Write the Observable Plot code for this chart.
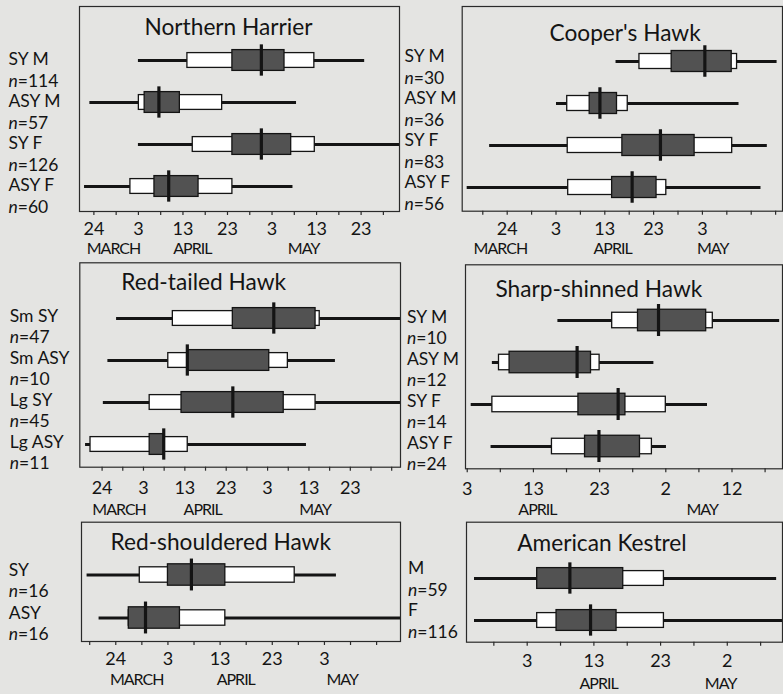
<!DOCTYPE html>
<html><head><meta charset="utf-8">
<script src="https://cdn.jsdelivr.net/npm/d3@7"></script>
<script src="https://cdn.jsdelivr.net/npm/@observablehq/plot@0.6"></script>
<style>
html,body{margin:0;padding:0;background:#e4e4e2;}
#chart{position:relative;width:783px;height:694px;overflow:hidden;font-family:Lato,sans-serif;}
#chart svg{position:absolute;overflow:visible;}
</style></head><body><div id="chart"></div>
<script>
// Day numbers: 1 = 1 March, 32 = 1 April, 62 = 1 May
const harrierRows = [
  {cls:"SY M",  n:"114", min:34.0, p10:45.0, q1:55.1, med:61.6, q3:66.8, p90:73.5, max:84.8},
  {cls:"ASY M", n:"57",  min:23.1, p10:34.1, q1:35.4, med:38.6, q3:43.3, p90:52.8, max:69.5},
  {cls:"SY F",  n:"126", min:34.0, p10:46.2, q1:55.1, med:61.6, q3:68.3, p90:73.6, max:93.5},
  {cls:"ASY F", n:"60",  min:21.9, p10:32.2, q1:37.6, med:40.8, q3:47.5, p90:55.1, max:68.7}
];
const cooperRows = [
  {cls:"SY M",  n:"30", min:46.3, p10:51.1, q1:57.7, med:64.5, q3:70.0, p90:71.1, max:79.3},
  {cls:"ASY M", n:"36", min:34.1, p10:36.3, q1:40.9, med:43.0, q3:46.5, p90:48.7, max:71.5},
  {cls:"SY F",  n:"83", min:20.4, p10:36.4, q1:47.6, med:55.4, q3:62.4, p90:70.1, max:77.3},
  {cls:"ASY F", n:"56", min:15.8, p10:36.5, q1:45.5, med:49.6, q3:54.6, p90:56.6, max:76.0}
];
const redtailRows = [
  {cls:"Sm SY",  n:"47", min:27.5, p10:41.1, q1:55.6, med:65.5, q3:75.6, p90:76.6, max:97.0},
  {cls:"Sm ASY", n:"10", min:25.4, p10:40.0, q1:44.6, med:44.6, q3:64.4, p90:68.9, max:80.4},
  {cls:"Lg SY",  n:"45", min:24.3, p10:35.5, q1:43.2, med:55.6, q3:67.9, p90:75.6, max:97.0},
  {cls:"Lg ASY", n:"11", min:20.0, p10:21.2, q1:35.5, med:38.9, q3:38.9, p90:44.7, max:73.4}
];
const sharpshinRows = [
  {cls:"SY M",  n:"10", min:47.7, p10:55.9, q1:59.8, med:62.9, q3:70.1, p90:71.1, max:81.2},
  {cls:"ASY M", n:"12", min:37.8, p10:38.8, q1:40.4, med:50.6, q3:52.7, p90:54.0, max:62.2},
  {cls:"SY F",  n:"14", min:34.6, p10:37.8, q1:50.8, med:56.8, q3:57.9, p90:64.0, max:70.3},
  {cls:"ASY F", n:"24", min:37.6, p10:46.8, q1:51.8, med:53.9, q3:60.1, p90:61.9, max:64.1}
];
const redshoulderRows = [
  {cls:"SY",  n:"16", min:18.5, p10:28.6, q1:34.0, med:38.5, q3:45.0, p90:58.3, max:66.3},
  {cls:"ASY", n:"16", min:20.8, p10:26.5, q1:26.5, med:29.7, q3:36.3, p90:45.0, max:80.0}
];
const kestrelRows = [
  {cls:"M", n:"59",  min:26.1, p10:35.5, q1:35.5, med:40.4, q3:48.4, p90:54.5, max:71.4},
  {cls:"F", n:"116", min:26.1, p10:35.5, q1:38.4, med:43.5, q3:47.4, p90:54.5, max:73.0}
];

// tick labels
const tickDaysA = [24, 34, 44, 54, 64, 74, 84];
const tickTextA = ["24", "3", "13", "23", "3", "13", "23"];
const tickDaysB = [24, 34, 44, 54, 64];
const tickTextB = ["24", "3", "13", "23", "3"];
const tickDaysC = [34, 44, 54, 64, 74];
const tickTextC = ["3", "13", "23", "2", "12"];
const tickDaysD = [34, 44, 54, 64];
const tickTextD = ["3", "13", "23", "2"];

// month labels (position in day numbers)
const monthNames = ["MARCH", "APRIL", "MAY"];
const monthsHarrier = [{name:"MARCH", day:28.4}, {name:"APRIL", day:46.1}, {name:"MAY", day:71.1}];
const monthsCooper = [{name:"MARCH", day:22.6}, {name:"APRIL", day:45.6}, {name:"MAY", day:66.1}];
const monthsRedtail = [{name:"MARCH", day:28.1}, {name:"APRIL", day:48.3}, {name:"MAY", day:75.5}];
const monthsSharpshin = [{name:"APRIL", day:44.6}, {name:"MAY", day:69.5}];
const monthsRedshoulder = [{name:"MARCH", day:28.0}, {name:"APRIL", day:47.0}, {name:"MAY", day:67.4}];
const monthsKestrel = [{name:"APRIL", day:44.7}, {name:"MAY", day:63.0}];

const panels = [
  {title:"Northern Harrier", rows:harrierRows, tickDays:tickDaysA, tickText:tickTextA, months:monthsHarrier,
   tickFrom:24, left:0, top:0, width:402, height:260, mt:6, mb:49, ml:79, mr:3, domain:[20.77, 92.62],
   insetTop:31.15, insetBottom:3.05, titleDx:65, titleDy:12, tickPad:10.7, monthDy:31.5, labDx:-71, labDy:8.5, lh:1.22},
  {title:"Cooper's Hawk", rows:cooperRows, tickDays:tickDaysB, tickText:tickTextB, months:monthsCooper,
   tickFrom:19, left:400, top:0, width:383, height:260, mt:6, mb:49.3, ml:61.7, mr:1, domain:[14.78, 80.41],
   insetTop:32.75, insetBottom:1.95, titleDx:87.3, titleDy:18, tickPad:11, monthDy:31.8, labDx:-57.7, labDy:4.5, lh:1.24},
  {title:"Red-tailed Hawk", rows:redtailRows, tickDays:tickDaysA, tickText:tickTextA, months:monthsRedtail,
   tickFrom:24, left:0, top:258, width:402, height:262, mt:4.3, mb:53.3, ml:79.3, mr:2, domain:[18.61, 96.13],
   insetTop:33.5, insetBottom:0, titleDx:41.4, titleDy:11.4, tickPad:14, monthDy:36.5, labDx:-70, labDy:7.5, lh:1.18},
  {title:"Sharp-shinned Hawk", rows:sharpshinRows, tickDays:tickDaysC, tickText:tickTextC, months:monthsSharpshin,
   tickFrom:34, left:400, top:258, width:383, height:262, mt:6.3, mb:51.7, ml:65, mr:1, domain:[33.74, 81.63],
   insetTop:34.9, insetBottom:1.1, titleDx:30, titleDy:15.9, tickPad:13.4, monthDy:34.5, labDx:-58.5, labDy:6, lh:1.22},
  {title:"Red-shouldered Hawk", rows:redshoulderRows, tickDays:tickDaysB, tickText:tickTextB, months:monthsRedshoulder,
   tickFrom:19, left:0, top:516, width:402, height:178, mt:5.7, mb:53, ml:81, mr:2, domain:[17.43, 78.58],
   insetTop:31.5, insetBottom:1.6, titleDx:29, titleDy:11.3, tickPad:10.5, monthDy:32.5, labDx:-72.7, labDy:4.5, lh:1.19},
  {title:"American Kestrel", rows:kestrelRows, tickDays:tickDaysD, tickText:tickTextD, months:monthsKestrel,
   tickFrom:29, left:400, top:516, width:383, height:178, mt:5.7, mb:52.3, ml:66, mr:1, domain:[24.9, 72.28],
   insetTop:34.6, insetBottom:0, titleDx:50.7, titleDy:12.6, tickPad:12, monthDy:35, labDx:-58.5, labDy:-0.5, lh:1.22}
];

const ink = "#141414";
const chart = document.getElementById("chart");

for (const p of panels) {
  const frameH = p.height - p.mt - p.mb;
  const bw = (frameH - p.insetTop - p.insetBottom) / p.rows.length;
  const ins = (h) => (bw - h) / 2;
  const svg = Plot.plot({
    width: p.width, height: p.height,
    marginTop: p.mt, marginBottom: p.mb, marginLeft: p.ml, marginRight: p.mr,
    style: {background: "transparent", fontFamily: "Lato, sans-serif", color: ink, overflow: "visible"},
    x: {domain: p.domain, label: null},
    y: {type: "band", domain: p.rows.map(d => d.cls), paddingInner: 0, paddingOuter: 0,
        insetTop: p.insetTop, insetBottom: p.insetBottom, axis: null, label: null},
    marks: [
      Plot.ruleY(p.rows, {y: "cls", x1: "min", x2: "max", stroke: ink, strokeWidth: 3.2, clip: true}),
      Plot.barX(p.rows, {y: "cls", x1: "p10", x2: "p90", fill: "#ffffff", stroke: ink, strokeWidth: 1.3,
        insetTop: ins(15.5), insetBottom: ins(15.5), clip: true}),
      Plot.barX(p.rows, {y: "cls", x1: "q1", x2: "q3", fill: "#525252", stroke: ink, strokeWidth: 1.3,
        insetTop: ins(21.5), insetBottom: ins(21.5), clip: true}),
      Plot.tickX(p.rows, {x: "med", y: "cls", stroke: ink, strokeWidth: 3.2,
        insetTop: ins(32), insetBottom: ins(32)}),
      Plot.frame({stroke: "#2a2a2a", strokeWidth: 1.2}),
      Plot.axisX({ticks: d3.range(p.tickFrom, p.domain[1], 5), tickSize: 4, tickFormat: () => "",
        stroke: "#2a2a2a", strokeWidth: 1.2}),
      Plot.axisX({ticks: p.tickDays, tickSize: 0, tickPadding: p.tickPad, fontSize: 18, fill: ink,
        tickFormat: d => p.tickText[p.tickDays.indexOf(d)]}),
      Plot.text(p.months, {x: "day", text: "name", frameAnchor: "bottom", lineAnchor: "top",
        dy: p.monthDy, fontSize: 16, fill: ink}),
      Plot.text([p.title], {frameAnchor: "top-left", textAnchor: "start", dx: p.titleDx, dy: p.titleDy,
        fontSize: 22.7, fill: ink}),
      Plot.text(p.rows, {y: "cls", text: d => `${d.cls}\nn=${d.n}`, frameAnchor: "left", textAnchor: "start",
        dx: p.labDx, dy: p.labDy, lineHeight: p.lh, fontSize: 17.5, fill: ink})
    ]
  });
  // italic "n"
  svg.querySelectorAll("tspan").forEach(ts => {
    const t = ts.textContent;
    if (t.startsWith("n=")) {
      ts.textContent = "";
      const it = document.createElementNS("http://www.w3.org/2000/svg", "tspan");
      it.setAttribute("font-style", "italic");
      it.textContent = "n";
      ts.appendChild(it);
      ts.appendChild(document.createTextNode(t.slice(1)));
    }
  });
  // narrower month captions, as in the original
  svg.querySelectorAll("text").forEach(t => {
    if (monthNames.includes(t.textContent)) t.setAttribute("letter-spacing", "-1");
  });
  svg.style.left = p.left + "px";
  svg.style.top = p.top + "px";
  chart.appendChild(svg);
}
</script>
</body></html>
